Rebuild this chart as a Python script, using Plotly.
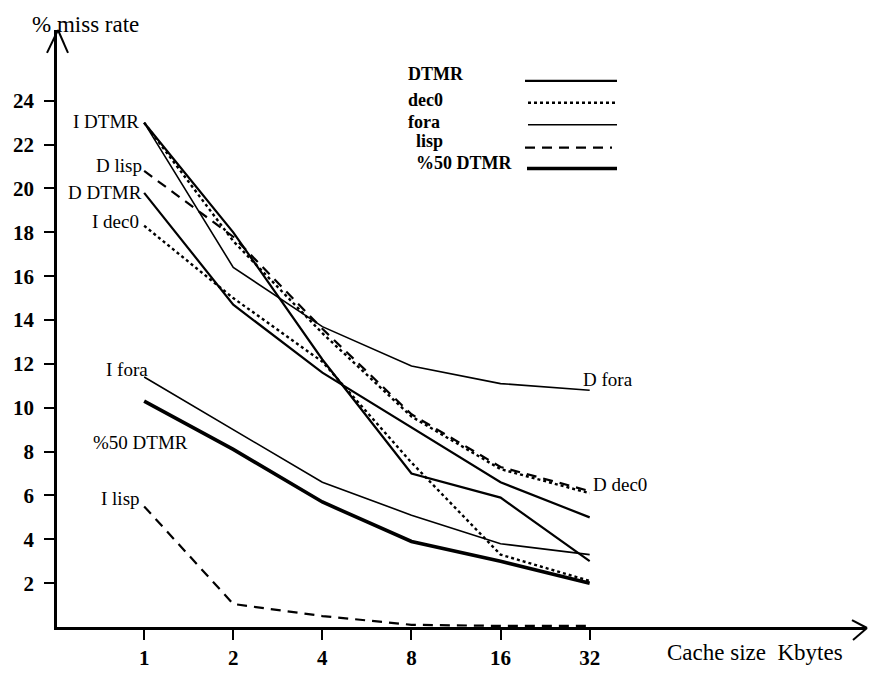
import math
import plotly.graph_objects as go

# ---------------- data ----------------
sizes = [1, 2, 4, 8, 16, 32]
size_labels = ["1", "2", "4", "8", "16", "32"]
y_ticks = [2, 4, 6, 8, 10, 12, 14, 16, 18, 20, 22, 24]

i_dtmr = [23.0, 18.0, 12.2, 7.0, 5.9, 3.0]
d_dtmr = [19.8, 14.7, 11.6, 9.1, 6.6, 5.0]
d_lisp = [20.8, 17.8, 13.6, 9.7, 7.3, 6.2]
i_lisp = [5.5, 1.05, 0.5, 0.1, 0.05, 0.05]
i_dec0 = [18.3, 15.0, 12.1, 7.5, 3.3, 2.1]
d_dec0 = [23.0, 17.6, 13.4, 9.6, 7.2, 6.1]
i_fora = [11.4, 9.0, 6.6, 5.1, 3.8, 3.3]
d_fora = [23.0, 16.4, 13.7, 11.9, 11.1, 10.8]
dtmr50 = [10.3, 8.1, 5.7, 3.9, 3.0, 2.0]

legend_names = ["DTMR", "dec0", "fora", "lisp", "%50 DTMR"]

# ---------------- styles ----------------
FONT = "'Liberation Serif', 'Times New Roman', Times, serif"
styles = {
    "DTMR": dict(color="black", width=2.2, dash="solid"),
    "dec0": dict(color="black", width=2.4, dash="3px,3px"),
    "fora": dict(color="black", width=1.6, dash="solid"),
    "lisp": dict(color="black", width=2.2, dash="10px,7px"),
    "%50 DTMR": dict(color="black", width=3.6, dash="solid"),
}

series = [
    ("I DTMR", i_dtmr, "DTMR"),
    ("D DTMR", d_dtmr, "DTMR"),
    ("D lisp", d_lisp, "lisp"),
    ("I lisp", i_lisp, "lisp"),
    ("I dec0", i_dec0, "dec0"),
    ("D dec0", d_dec0, "dec0"),
    ("I fora", i_fora, "fora"),
    ("D fora", d_fora, "fora"),
    ("%50 DTMR", dtmr50, "%50 DTMR"),
]

fig = go.Figure()
for name, vals, kind in series:
    fig.add_trace(go.Scatter(x=sizes, y=vals, mode="lines", name=name,
                             line=styles[kind], showlegend=False,
                             hoverinfo="x+y+name"))

# plot area geometry (pixels)
W, H = 869, 673
PL, PT, PR, PB = 57, 30, 3, 44
PW, PH = W - PL - PR, H - PT - PB


def px(x):
    return (x - PL) / PW


def py(y):
    return (PT + PH - y) / PH


L2 = math.log10(2)
shapes = []
annotations = []

# axis arrow heads
for (x0, y0, x1, y1) in [(47, 53, 58, 30), (58, 30, 68, 53),
                         (852, 622, 867, 630), (867, 630, 853, 642)]:
    shapes.append(dict(type="line", xref="paper", yref="paper",
                       x0=px(x0), y0=py(y0), x1=px(x1), y1=py(y1),
                       line=dict(color="black", width=2)))

# legend (text left, sample right)
leg_text_pos = [(406, 74), (406, 100), (406, 122), (414, 141), (414, 163)]
leg_line_pos = [(525, 617, 81), (528, 617, 103), (528, 617, 125),
                (525, 612, 148), (527, 617, 169)]
for nm, (tx, ty), (lx0, lx1, ly) in zip(legend_names, leg_text_pos, leg_line_pos):
    annotations.append(dict(text=nm, xref="paper", yref="paper",
                            x=px(tx), y=py(ty), xanchor="left", yanchor="middle",
                            showarrow=False,
                            font=dict(family=FONT, size=18, color="black",
                                      weight="bold")))
    st = styles[nm]
    shapes.append(dict(type="line", xref="paper", yref="paper",
                       x0=px(lx0), x1=px(lx1), y0=py(ly), y1=py(ly),
                       line=dict(color="black", width=st["width"], dash=st["dash"])))

# series labels anchored to the data
def lab(text, xi, yv, xanchor, xshift, yshift):
    annotations.append(dict(text=text, xref="x", yref="y",
                            x=math.log10(xi), y=yv, xanchor=xanchor,
                            yanchor="middle", xshift=xshift, yshift=yshift,
                            showarrow=False,
                            font=dict(family=FONT, size=19, color="black")))

lab("I DTMR", sizes[0], i_dtmr[0], "right", -3, 1)
lab("D lisp", sizes[0], d_lisp[0], "right", 0, 5)
lab("D DTMR", sizes[0], d_dtmr[0], "right", 0, 0)
lab("I dec0", sizes[0], i_dec0[0], "right", -3, 4)
lab("I fora", sizes[0], i_fora[0], "right", 6, 8)
lab("%50 DTMR", sizes[0], dtmr50[0], "center", -4, -41)
lab("I lisp", sizes[0], i_lisp[0], "right", -2, 8)
lab("D fora", sizes[-1], d_fora[-1], "left", -9, 11)
lab("D dec0", sizes[-1], d_dec0[-1], "left", 1, 9)

# axis titles
annotations.append(dict(text="% miss rate", xref="paper", yref="paper",
                        x=px(30), y=py(24), xanchor="left", yanchor="middle",
                        showarrow=False,
                        font=dict(family=FONT, size=23, color="black")))
annotations.append(dict(text="Cache size\u00a0 Kbytes", xref="paper", yref="paper",
                        x=px(665), y=py(655), xanchor="left", yanchor="middle",
                        showarrow=False,
                        font=dict(family=FONT, size=23, color="black")))

fig.update_layout(
    width=W, height=H,
    margin=dict(l=PL, r=PR, t=PT, b=PB, pad=0),
    paper_bgcolor="white", plot_bgcolor="white",
    showlegend=False,
    font=dict(family=FONT, color="black"),
    shapes=shapes, annotations=annotations,
    xaxis=dict(type="log", range=[-0.978 * L2, 8.101 * L2],
               tickvals=sizes, ticktext=size_labels,
               showline=True, linecolor="black", linewidth=2.5,
               ticks="outside", ticklen=10, tickwidth=2, tickcolor="black",
               showgrid=False, zeroline=False,
               tickfont=dict(family=FONT, size=21, color="black", weight="bold")),
    yaxis=dict(range=[0, PH / 22.0], tickvals=y_ticks,
               showline=True, linecolor="black", linewidth=2.5,
               ticks="outside", ticklen=10, tickwidth=2, tickcolor="black",
               ticklabelstandoff=6,
               showgrid=False, zeroline=False,
               tickfont=dict(family=FONT, size=21, color="black", weight="bold")),
)

fig.write_html("out.html")
